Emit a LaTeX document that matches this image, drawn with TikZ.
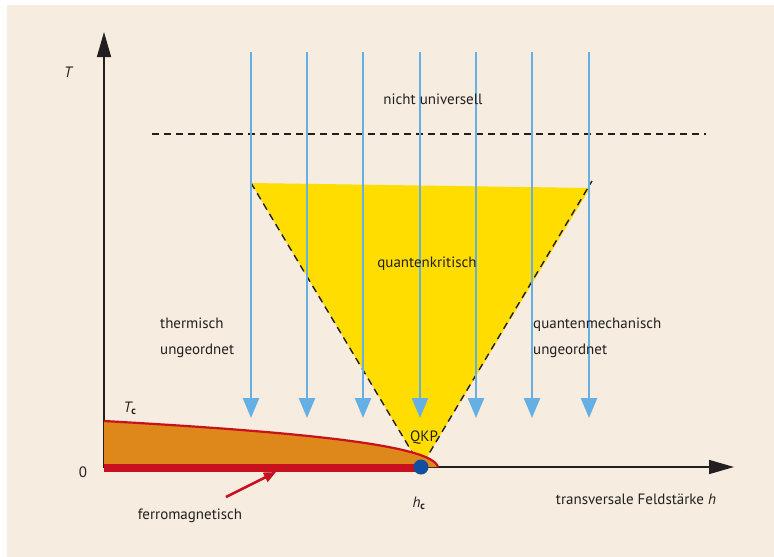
\documentclass[tikz,border=0pt]{standalone}
\usepackage{fontspec}
\setmainfont{PT Sans}
\usetikzlibrary{arrows.meta}
\definecolor{diagcolor0001}{RGB}{246,236,223}
\definecolor{diagcolor0002}{RGB}{255,221,0}
\definecolor{diagcolor0003}{RGB}{222,135,26}
\definecolor{diagcolor0004}{RGB}{200,16,30}
\definecolor{diagcolor0005}{RGB}{100,176,228}
\definecolor{diagcolor0006}{RGB}{16,78,160}
\definecolor{diagcolor0007}{RGB}{35,31,32}

\begin{document}
\begin{tikzpicture}[yscale=-1
,font=\fontsize{15}{18}\selectfont
,dstyle0/.style={fill=diagcolor0001,draw=none}
,dstyle1/.style={color=diagcolor0007,line width=1.5pt,-{Triangle[length=25pt,width=14pt]}}
,dstyle2/.style={color=diagcolor0005,line width=2.5pt,-{Triangle[length=20pt,width=16pt]}}
,dstyle3/.style={color=diagcolor0007,line width=1.4pt,dash pattern=on 7pt off 5pt}
,dstyle4/.style={color=diagcolor0004,line width=2.2pt}
,dstyle5/.style={color=diagcolor0004,line width=2.5pt,-{Triangle[length=12pt,width=10pt]}}
,dstyle6/.style={color=diagcolor0007,inner sep=0}
,dstyle7/.style={dstyle6,anchor=west,align=left,font=\fontsize{15}{26}\selectfont}
]
\useasboundingbox (0pt,0pt) rectangle (774pt,557pt);
\fill[dstyle0] (7pt,5pt) rectangle (774pt,557pt);
% quantenkritischer Bereich
\fill[diagcolor0002] (251pt,183pt) -- (590pt,188pt) -- (421pt,467pt) -- cycle;
\draw[dstyle3] (251pt,183pt) -- (421pt,467pt) -- (592pt,181pt);
\draw[dstyle3] (152pt,134pt) -- (706pt,134pt);
% Achsen
\draw[dstyle1] (104pt,468pt) -- (104pt,32pt);
\draw[dstyle1] (104pt,467pt) -- (734pt,467pt);
% ferromagnetische Phase
\fill[diagcolor0003] (104pt,421pt) .. controls (300pt,432pt) and (432pt,445pt) .. (438pt,467pt) -- (104pt,467pt) -- cycle;
\draw[color=diagcolor0004,line width=8pt] (104pt,468pt) -- (421pt,468pt);
\draw[dstyle4] (104pt,421pt) .. controls (300pt,432pt) and (432pt,445pt) .. (438pt,467pt);
% Pfeile
\foreach \x in {251,307,363,420,476,532,589}
  \draw[dstyle2] (\x pt,52pt) -- (\x pt,418pt);
\fill[diagcolor0006] (421pt,467pt) circle (7.5pt);
\node[dstyle6] (qkp) at (424pt,438pt) {QKP};
\node[dstyle6] (lblT) at (68pt,72pt) {\itshape T};
\node[dstyle6] (lblzero) at (83pt,472pt) {0};
\node[dstyle6] (lblTc) at (130pt,408pt) {{\itshape T}\textsubscript{\bfseries c}};
\node[dstyle6] (lblhc) at (419pt,503pt) {{\itshape h}\textsubscript{\bfseries c}};
\node[dstyle6] (lblfield) at (636pt,499pt) {transversale Feldstärke {\itshape h}};
\node[dstyle6] (lblferro) at (190pt,516pt) {ferromagnetisch};
\node[dstyle6] (lblnonuniv) at (433pt,99pt) {nicht universell};
\node[dstyle6] (lblqcrit) at (427pt,264pt) {quantenkritisch};
\node[dstyle7] (lblthermal) at (160pt,338pt) {thermisch\\ungeordnet};
\node[dstyle7] (lblquantum) at (533pt,338pt) {quantenmechanisch\\ungeordnet};
\coordinate (ferrotail) at (226pt,497pt);
\coordinate (ferrotip) at (276pt,472pt);
\draw[dstyle5] (ferrotail) -- (ferrotip);
\end{tikzpicture}
\end{document}
